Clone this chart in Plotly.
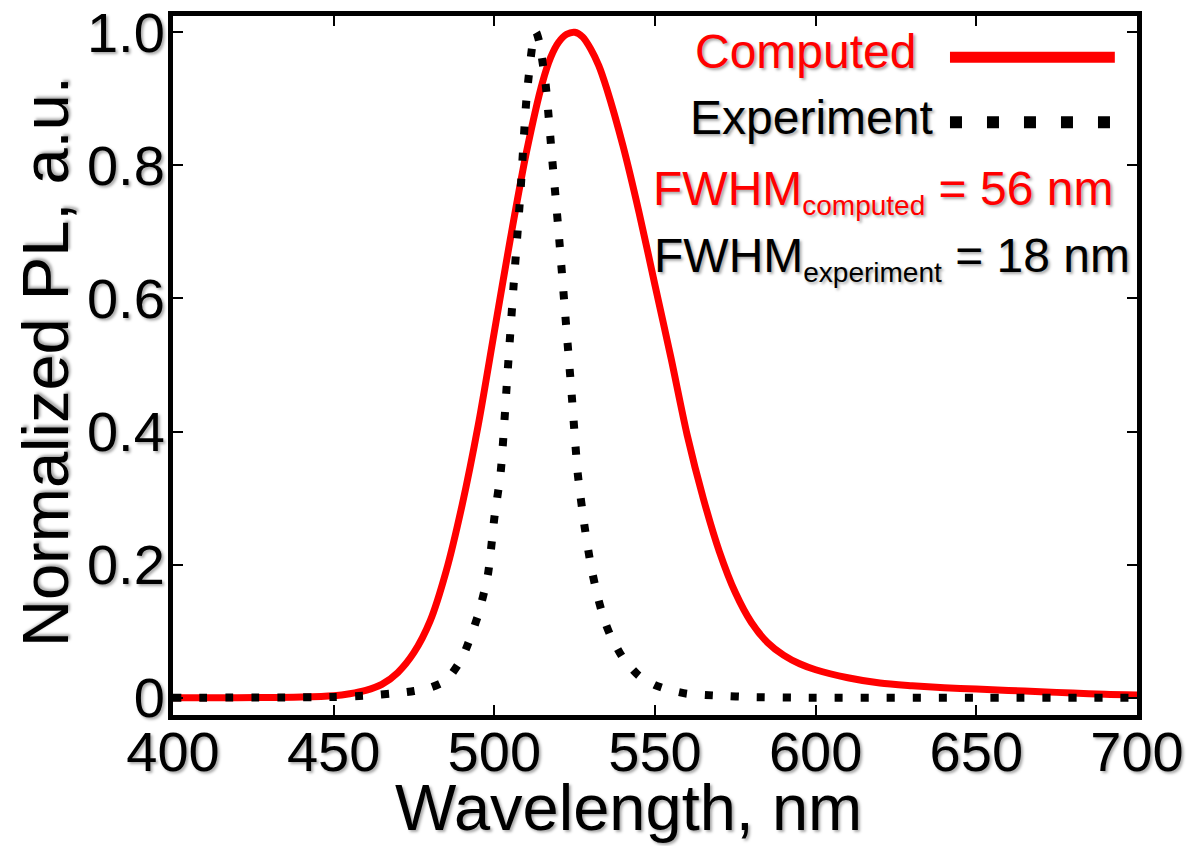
import plotly.graph_objects as go

# Computed PL spectrum (normalized)
computed_nm = [400, 420, 440, 450, 455, 460, 465, 470, 475, 480, 485, 490, 495,
               500, 505, 510, 515, 517.5, 520, 522.5, 525, 527.5, 530, 532.5, 535,
               540, 545, 550, 555, 560, 565, 570, 575, 580, 585, 590, 595, 600, 610,
               620, 630, 640, 650, 660, 670, 680, 690, 700]
computed_pl = [0.0, 0.0, 0.001, 0.003, 0.006, 0.011, 0.02, 0.038, 0.068, 0.115,
               0.19, 0.29, 0.41, 0.55, 0.69, 0.82, 0.925, 0.962, 0.985, 0.997, 1.0,
               0.993, 0.975, 0.95, 0.915, 0.83, 0.73, 0.62, 0.51, 0.395, 0.3, 0.22,
               0.158, 0.113, 0.083, 0.064, 0.051, 0.042, 0.03, 0.022, 0.018, 0.015,
               0.013, 0.011, 0.009, 0.007, 0.005, 0.004]

# Experimental PL spectrum (normalized)
experiment_nm = [400, 450, 460, 470, 475, 480, 485, 490, 495, 498, 500, 502, 504,
                 506, 508, 510, 512, 513, 514, 516, 518, 520, 522, 524, 526, 528,
                 530, 532, 534, 536, 540, 545, 550, 555, 560, 570, 580, 600, 650, 700]
experiment_pl = [0.0, 0.001, 0.003, 0.007, 0.01, 0.015, 0.026, 0.06, 0.125, 0.185,
                 0.27, 0.34, 0.48, 0.62, 0.75, 0.9, 0.985, 1.0, 0.985, 0.92, 0.81,
                 0.7, 0.58, 0.46, 0.335, 0.26, 0.2, 0.155, 0.12, 0.095, 0.06, 0.033,
                 0.019, 0.011, 0.006, 0.003, 0.001, 0.0, 0.0, 0.0]

x_ticks = [400, 450, 500, 550, 600, 650, 700]
y_ticks = [0, 0.2, 0.4, 0.6, 0.8, 1.0]
y_tick_text = ["0", "0.2", "0.4", "0.6", "0.8", "1.0"]

FONT = "Liberation Sans, Arial, sans-serif"
SHADOW = "2px 2px 3px rgba(0,0,0,0.35)"
RED = "#ff0000"

fig = go.Figure()
fig.add_trace(go.Scatter(x=computed_nm, y=computed_pl, mode="lines",
                         line=dict(color=RED, width=7, shape="spline", smoothing=0.8),
                         name="Computed", showlegend=False))
fig.add_trace(go.Scatter(x=experiment_nm, y=experiment_pl, mode="lines",
                         line=dict(color="black", width=8, dash="8px,18px",
                                   shape="spline", smoothing=0.6),
                         name="Experiment", showlegend=False))

axis_common = dict(showline=True, linecolor="black", linewidth=5, mirror="allticks",
                   ticks="inside", ticklen=10, tickwidth=2, tickcolor="black",
                   showgrid=False, zeroline=False, automargin=False,
                   ticklabeloverflow="allow",
                   tickfont=dict(family=FONT, size=56, color="black", shadow=SHADOW))

fig.update_xaxes(range=[400, 700], tickvals=x_ticks, ticklabelstandoff=-16,
                 **axis_common)
fig.update_yaxes(range=[-0.026, 1.0245], tickvals=y_ticks, ticktext=y_tick_text,
                 ticklabelstandoff=-8, **axis_common)

title_font = dict(family=FONT, size=65, color="black", shadow=SHADOW)
txt = dict(family=FONT, size=48, shadow=SHADOW)
annotations = [
    # axis titles
    dict(text="Wavelength, nm", x=628, y=807,
         xanchor="center", yanchor="middle", font=title_font),
    dict(text="Normalized PL, a.u.", x=45, y=362, textangle=-90,
         xanchor="center", yanchor="middle", font=title_font),
    # legend entries
    dict(text="Computed", x=0.773, y=0.949, xanchor="right", yanchor="middle",
         font=dict(color=RED, **txt)),
    dict(text="Experiment", x=0.790, y=0.855, xanchor="right", yanchor="middle",
         font=dict(color="black", **txt)),
    dict(text="FWHM<sub><span style='font-size:28px'>computed</span></sub> = 56 nm",
         x=0.977, y=0.749, xanchor="right", yanchor="middle",
         font=dict(color=RED, **txt)),
    dict(text="FWHM<sub><span style='font-size:28px'>experiment</span></sub> = 18 nm",
         x=0.995, y=0.653, xanchor="right", yanchor="middle",
         font=dict(color="black", **txt)),
]
# axis titles are positioned in pixels; convert to paper coordinates
L, R, T, B, W, H = 173, 52, 16, 131, 1189, 846
pw, ph = W - L - R, H - T - B
for a in annotations[:2]:
    a["x"] = (a["x"] - L) / pw
    a["y"] = (H - B - a["y"]) / ph
for a in annotations:
    a.update(xref="paper", yref="paper", showarrow=False)

shapes = [
    dict(type="line", xref="paper", yref="paper", x0=0.806, x1=0.977, y0=0.941, y1=0.941,
         line=dict(color=RED, width=11)),
    dict(type="line", xref="paper", yref="paper", x0=0.806, x1=0.977, y0=0.848, y1=0.848,
         line=dict(color="black", width=12, dash="12px,25px")),
]

fig.update_layout(
    width=W, height=H,
    margin=dict(l=L, r=R, t=T, b=B),
    paper_bgcolor="white", plot_bgcolor="white",
    font=dict(family=FONT, color="black"),
    annotations=annotations, shapes=shapes,
)

fig.write_html("out.html")
